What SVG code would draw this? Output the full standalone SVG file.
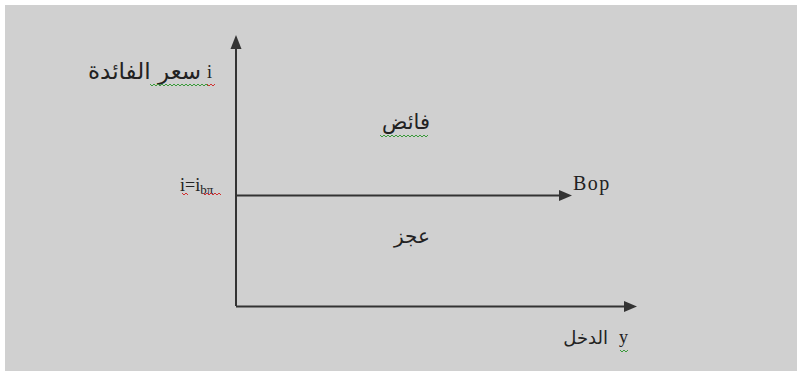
<svg xmlns="http://www.w3.org/2000/svg" width="797" height="372" viewBox="0 0 797 372">
<style>
.ax{stroke:#333;stroke-width:2;fill:none}
.ar{fill:#333}
.t{font-family:"DejaVu Sans","Noto Sans",sans-serif;fill:#222}
.s{font-family:"Liberation Serif",serif;fill:#222}
.g{stroke:#3a9a3a;stroke-width:1;fill:none}
.r{stroke:#d03030;stroke-width:1;fill:none}
</style>
<rect x="0" y="0" width="797" height="372" fill="#ffffff"/>
<rect x="5" y="5" width="792" height="366" fill="#d0d0d0"/>
<g id="connectors">
<line class="ax" x1="236" y1="306" x2="236" y2="46"/>
<polygon class="ar" points="236,35 230.5,49 241.5,49"/>
<line class="ax" x1="236" y1="306.5" x2="626" y2="306.5"/>
<polygon class="ar" points="637,306.5 624,301 624,312"/>
<line class="ax" x1="236" y1="195.5" x2="561" y2="195.5"/>
<polygon class="ar" points="572,195.5 559,190 559,201"/>
</g>
<g id="y-axis-label">
<text class="t" x="201" y="79" text-anchor="end" font-size="23">سعر الفائدة</text>
<text class="s" x="207" y="78" font-size="18">i</text>
<path class="g" d="M150,84 l2,2 l2,-2 l2,2 l2,-2 l2,2 l2,-2 l2,2 l2,-2 l2,2 l2,-2 l2,2 l2,-2 l2,2 l2,-2 l2,2 l2,-2 l2,2 l2,-2 l2,2 l2,-2 l2,2 l2,-2 l2,2 l2,-2 l2,2 l2,-2 l2,2 l2,-2 l2,2"/>
<path class="r" d="M207,84 l2,2 l2,-2 l2,2 l2,-2"/>
</g>
<g id="ieq-label">
<text class="s" x="180" y="191" font-size="18">i=i<tspan font-size="13" dy="3">bπ</tspan></text>
<path class="r" d="M182,193 l2,2 l2,-2 l2,2"/>
<path class="r" d="M203,193 l2,2 l2,-2 l2,2 l2,-2 l2,2 l2,-2 l2,2 l2,-2 l2,2"/>
</g>
<g id="surplus">
<text class="t" x="406" y="129" text-anchor="middle" font-size="21">فائض</text>
<path class="g" d="M380,135 l2,2 l2,-2 l2,2 l2,-2 l2,2 l2,-2 l2,2 l2,-2 l2,2 l2,-2 l2,2 l2,-2 l2,2 l2,-2 l2,2 l2,-2 l2,2 l2,-2 l2,2 l2,-2 l2,2 l2,-2 l2,2 l2,-2"/>
</g>
<g id="deficit">
<text class="t" x="412" y="243" text-anchor="middle" font-size="20">عجز</text>
</g>
<g id="bop-label">
<text class="s" x="573" y="190" font-size="20" letter-spacing="1.5">Bop</text>
</g>
<g id="x-axis-label">
<text class="t" x="608" y="344" text-anchor="end" font-size="18">الدخل</text>
<text class="s" x="619" y="343" font-size="18">y</text>
<path class="g" d="M620,350 l2,2 l2,-2 l2,2 l2,-2"/>
</g>
</svg>
